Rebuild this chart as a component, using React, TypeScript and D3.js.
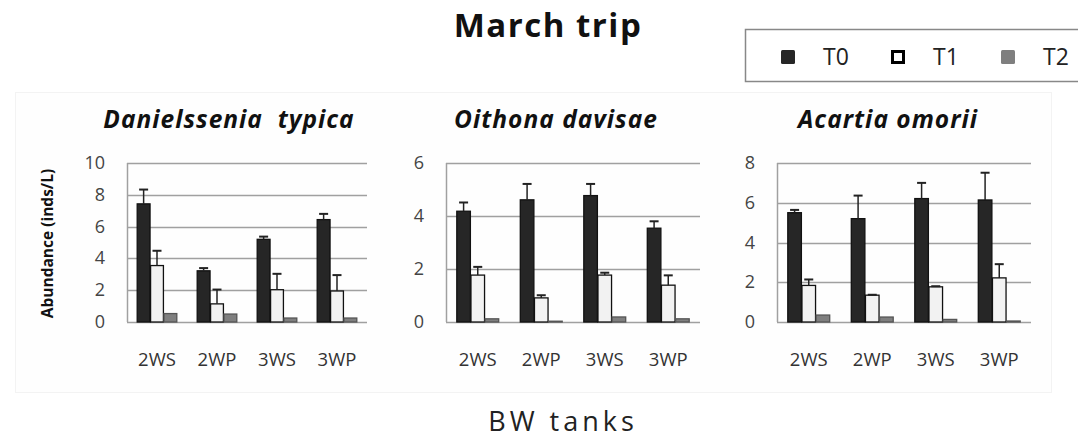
import React, { useEffect, useRef } from 'react';
import * as d3 from 'd3';

// tanks on the x axis, sampling times as series
const TANKS = ['2WS', '2WP', '3WS', '3WP'];
const SERIES = ['T0', 'T1', 'T2'];

const SPECIES = ['Danielssenia  typica', 'Oithona davisae', 'Acartia omorii'];
const Y_MAX = [10, 6, 8];
const Y_TICKS = [
  [0, 2, 4, 6, 8, 10],
  [0, 2, 4, 6],
  [0, 2, 4, 6, 8],
];

// means per species: rows = tanks, cols = T0, T1, T2
const DANIELSSENIA = [
  [7.43, 3.55, 0.53],
  [3.22, 1.14, 0.5],
  [5.2, 2.03, 0.25],
  [6.44, 1.95, 0.25],
];
const DANIELSSENIA_ERR = [
  [0.9, 0.93, 0],
  [0.17, 0.9, 0],
  [0.17, 1.0, 0],
  [0.36, 1.0, 0],
];
const OITHONA = [
  [4.18, 1.77, 0.12],
  [4.61, 0.91, 0.03],
  [4.77, 1.77, 0.19],
  [3.54, 1.39, 0.12],
];
const OITHONA_ERR = [
  [0.33, 0.31, 0],
  [0.6, 0.1, 0],
  [0.44, 0.09, 0],
  [0.26, 0.37, 0],
];
const ACARTIA = [
  [5.5, 1.84, 0.35],
  [5.2, 1.35, 0.25],
  [6.21, 1.77, 0.13],
  [6.14, 2.22, 0.05],
];
const ACARTIA_ERR = [
  [0.14, 0.3, 0],
  [1.16, 0.02, 0],
  [0.79, 0.03, 0],
  [1.37, 0.69, 0],
];

const VALUES = [DANIELSSENIA, OITHONA, ACARTIA];
const ERRORS = [DANIELSSENIA_ERR, OITHONA_ERR, ACARTIA_ERR];

const FILLS = ['#262626', '#f2f2f2', '#7f7f7f'];
const STROKES = ['#111', '#111', '#555'];

// plot areas (left, right) of each panel
const PANELS = [
  { x0: 127, x1: 367 },
  { x0: 446, x1: 700 },
  { x0: 777, x1: 1031 },
];
const TOP = 163;
const BOTTOM = 322;
const FONT = '"Open Sans", "DejaVu Sans", sans-serif';

const App: React.FC = () => {
  const svgRef = useRef<SVGSVGElement>(null);

  useEffect(() => {
    if (!svgRef.current) return;
    const svg = d3.select(svgRef.current);
    svg.selectAll('*').remove();

    svg.append('rect').attr('width', 1078).attr('height', 438).attr('fill', '#fff');

    // faint chart-area frame
    svg.append('rect')
      .attr('x', 15.5).attr('y', 92.5)
      .attr('width', 1036).attr('height', 300)
      .attr('fill', '#fefefe')
      .attr('stroke', '#f3f3f3');

    // title
    svg.append('text')
      .attr('x', 548).attr('y', 37)
      .attr('text-anchor', 'middle')
      .attr('font-family', FONT)
      .attr('font-weight', 'bold')
      .attr('font-size', 33)
      .attr('letter-spacing', 1.5)
      .attr('fill', '#111')
      .text('March trip');

    // legend
    const lg = svg.append('g');
    lg.append('rect')
      .attr('x', 745.5).attr('y', 29.5)
      .attr('width', 340).attr('height', 52)
      .attr('fill', '#fff')
      .attr('stroke', '#888')
      .attr('stroke-width', 1.5);
    const legendX = [781, 891, 1001];
    SERIES.forEach((s, i) => {
      const x = legendX[i];
      if (i === 1) {
        lg.append('rect')
          .attr('x', x + 1.5).attr('y', 51.5)
          .attr('width', 11).attr('height', 11)
          .attr('fill', '#fff').attr('stroke', '#000').attr('stroke-width', 3);
      } else {
        lg.append('rect')
          .attr('x', x).attr('y', 50)
          .attr('width', 14).attr('height', 14)
          .attr('rx', 1.5)
          .attr('fill', FILLS[i]);
      }
      lg.append('text')
        .attr('x', x + 42).attr('y', 65)
        .attr('font-family', FONT)
        .attr('font-size', 23)
        .attr('fill', '#222')
        .text(s);
    });

    // y axis label
    svg.append('text')
      .attr('transform', `translate(53, ${(TOP + BOTTOM) / 2 + 1}) rotate(-90)`)
      .attr('text-anchor', 'middle')
      .attr('font-family', FONT)
      .attr('font-weight', 'bold')
      .attr('font-size', 15.5)
      .attr('fill', '#111')
      .text('Abundance (inds/L)');

    const titleX = [229, 556, 888];

    PANELS.forEach((p, k) => {
      const g = svg.append('g');
      const y = d3.scaleLinear().domain([0, Y_MAX[k]]).range([BOTTOM, TOP]);
      const x = d3.scaleBand<string>().domain(TANKS).range([p.x0, p.x1]);
      const groupW = x.bandwidth() * 0.66;
      const xs = d3.scaleBand<string>().domain(SERIES).range([0, groupW]).paddingInner(0.04);

      // species title
      svg.append('text')
        .attr('x', titleX[k]).attr('y', 128)
        .attr('text-anchor', 'middle')
        .attr('font-family', FONT)
        .attr('font-weight', 'bold')
        .attr('font-style', 'italic')
        .attr('font-size', 24.5)
        .attr('letter-spacing', 1)
        .style('white-space', 'pre')
        .attr('fill', '#111')
        .text(SPECIES[k]);

      // gridlines + ticks
      Y_TICKS[k].forEach((t) => {
        g.append('line')
          .attr('x1', p.x0).attr('x2', p.x1)
          .attr('y1', Math.round(y(t)) + 0.5).attr('y2', Math.round(y(t)) + 0.5)
          .attr('stroke', '#a0a0a0')
          .attr('stroke-width', 1.5);
        g.append('text')
          .attr('x', p.x0 - 22).attr('y', y(t) + 6)
          .attr('text-anchor', 'end')
          .attr('font-family', FONT)
          .attr('font-size', 18)
          .attr('fill', '#444')
          .text(t);
      });
      g.append('line')
        .attr('x1', p.x0 + 0.5).attr('x2', p.x0 + 0.5)
        .attr('y1', TOP).attr('y2', BOTTOM)
        .attr('stroke', '#a0a0a0')
        .attr('stroke-width', 1.5);

      // category labels
      TANKS.forEach((c) => {
        g.append('text')
          .attr('x', (x(c) as number) + x.bandwidth() / 2)
          .attr('y', 366)
          .attr('text-anchor', 'middle')
          .attr('font-family', FONT)
          .attr('font-size', 18.5)
          .attr('fill', '#333')
          .text(c);
      });

      // bars + error bars
      TANKS.forEach((c, ci) => {
        const gx = (x(c) as number) + (x.bandwidth() - groupW) / 2;
        SERIES.forEach((s, si) => {
          const v = VALUES[k][ci][si];
          const e = ERRORS[k][ci][si];
          const bx = gx + (xs(s) as number);
          const bw = xs.bandwidth();
          g.append('rect')
            .attr('x', bx).attr('y', y(v))
            .attr('width', bw).attr('height', BOTTOM - y(v))
            .attr('fill', FILLS[si])
            .attr('stroke', STROKES[si])
            .attr('stroke-width', 1.3);
          if (e > 0) {
            const cx = bx + bw / 2;
            g.append('line')
              .attr('x1', cx).attr('x2', cx)
              .attr('y1', y(v)).attr('y2', y(v + e))
              .attr('stroke', '#222').attr('stroke-width', 1.5);
            g.append('line')
              .attr('x1', cx - 4.5).attr('x2', cx + 4.5)
              .attr('y1', y(v + e)).attr('y2', y(v + e))
              .attr('stroke', '#222').attr('stroke-width', 2);
          }
        });
      });
    });

    // x axis title
    svg.append('text')
      .attr('x', 563).attr('y', 431)
      .attr('text-anchor', 'middle')
      .attr('font-family', FONT)
      .attr('font-size', 27)
      .attr('letter-spacing', 4)
      .attr('fill', '#222')
      .text('BW tanks');
  }, []);

  return (
    <div style={{ position: 'absolute', left: 0, top: 0 }}>
      <svg ref={svgRef} width={1078} height={438} style={{ display: 'block' }} />
    </div>
  );
};

export default App;
